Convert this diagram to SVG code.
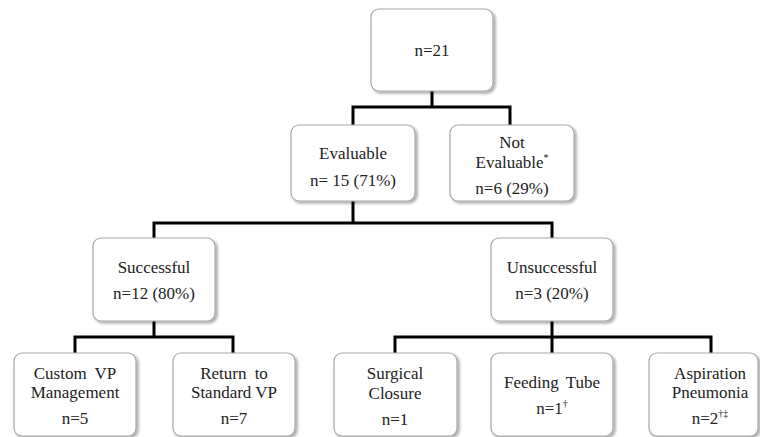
<svg xmlns="http://www.w3.org/2000/svg" width="760" height="437" viewBox="0 0 760 437">
<defs>
<filter id="sh" x="-10%" y="-10%" width="130%" height="130%">
<feGaussianBlur in="SourceAlpha" stdDeviation="1.5"/>
<feOffset dx="1.5" dy="2" result="b"/>
<feComponentTransfer><feFuncA type="linear" slope="0.35"/></feComponentTransfer>
<feMerge><feMergeNode/><feMergeNode in="SourceGraphic"/></feMerge>
</filter>
</defs>
<style>
.box{fill:#fff;stroke:#a8a8a8;stroke-width:1.2;filter:url(#sh)}
.t{font-size:17px;fill:#222;text-anchor:middle}
.sup{font-size:10px}
.c{fill:none;stroke:#000;stroke-width:3}
</style>
<rect width="760" height="437" fill="#fff"/>
<g id="connectors">
<path class="c" d="M432 91V107M353 107H510M353 105.5V125M510 105.5V125"/>
<path class="c" d="M353 201V223M154 223H552M154 221.5V238M552 221.5V238"/>
<path class="c" d="M154 321V337M75 337H233M75 335.5V353M233 335.5V353"/>
<path class="c" d="M552 321V353M395 337H711M395 335.5V353M711 335.5V353"/>
</g>
<g font-family="Liberation Serif, Times New Roman, serif">
<g id="n-total"><rect class="box" x="371" y="9" width="122" height="82" rx="8"/><text class="t" x="432" y="56">n=21</text></g>
<g id="n-evaluable"><rect class="box" x="291" y="125" width="124" height="76" rx="8"/><text class="t" x="353" y="159">Evaluable</text><text class="t" x="353" y="186">n= 15 (71%)</text></g>
<g id="n-notevaluable"><rect class="box" x="450" y="125" width="124" height="76" rx="8"/><text class="t" x="512" y="148">Not</text><text class="t" x="512" y="168">Evaluable<tspan class="sup" dy="-7">*</tspan></text><text class="t" x="512" y="194">n=6 (29%)</text></g>
<g id="n-successful"><rect class="box" x="93" y="238" width="122" height="83" rx="8"/><text class="t" x="154" y="273">Successful</text><text class="t" x="154" y="299">n=12 (80%)</text></g>
<g id="n-unsuccessful"><rect class="box" x="491" y="238" width="122" height="83" rx="8"/><text class="t" x="552" y="273">Unsuccessful</text><text class="t" x="552" y="299">n=3 (20%)</text></g>
<g id="n-custom"><rect class="box" x="14" y="353" width="122" height="83" rx="8"/><text class="t" x="75" y="379" word-spacing="4">Custom VP</text><text class="t" x="75" y="398">Management</text><text class="t" x="75" y="424">n=5</text></g>
<g id="n-return"><rect class="box" x="173" y="353" width="122" height="83" rx="8"/><text class="t" x="234" y="379" word-spacing="4">Return to</text><text class="t" x="234" y="398">Standard VP</text><text class="t" x="234" y="424">n=7</text></g>
<g id="n-surgical"><rect class="box" x="334" y="353" width="123" height="83" rx="8"/><text class="t" x="395" y="379">Surgical</text><text class="t" x="395" y="399">Closure</text><text class="t" x="395" y="425">n=1</text></g>
<g id="n-feeding"><rect class="box" x="491" y="353" width="122" height="83" rx="8"/><text class="t" x="552" y="388" word-spacing="3">Feeding Tube</text><text class="t" x="552" y="414">n=1<tspan class="sup" dy="-7">†</tspan></text></g>
<g id="n-aspiration"><rect class="box" x="649" y="353" width="109" height="83" rx="8"/><text class="t" x="710" y="379">Aspiration</text><text class="t" x="710" y="398">Pneumonia</text><text class="t" x="710" y="424">n=2<tspan class="sup" dy="-7">†‡</tspan></text></g>
</g>
</svg>
